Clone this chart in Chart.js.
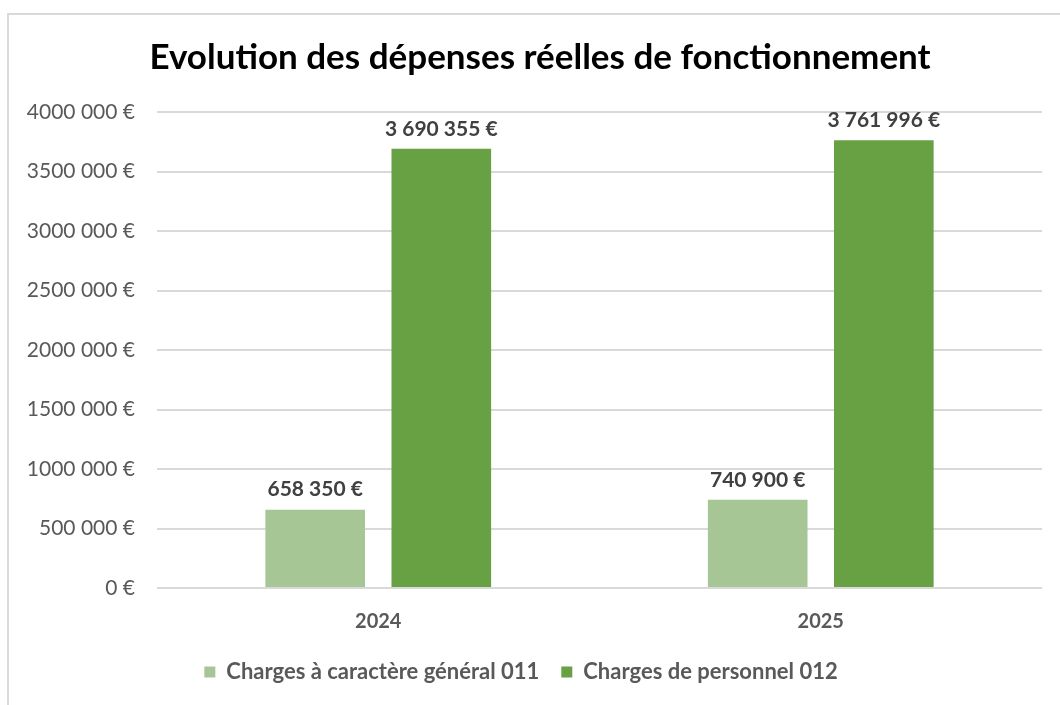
<!DOCTYPE html>
<html>
<head>
<meta charset="utf-8">
<script src="https://cdn.jsdelivr.net/npm/chart.js@4.4.1/dist/chart.umd.min.js"></script>
<style>
  html, body { margin: 0; padding: 0; background: #fff; }
  #frame {
    position: absolute; left: 7px; top: 13px; width: 1100px; height: 720px;
    border-left: 2px solid #d9d9d9; border-top: 2px solid #d9d9d9;
  }
  #wrap { position: absolute; left: 0; top: 0; width: 1060px; height: 705px; }
</style>
</head>
<body>
<div id="frame"></div>
<div id="wrap"><canvas id="chart" width="1060" height="705"></canvas></div>
<script>
const years = ['2024', '2025'];
const charges011 = [658350, 740900];
const charges012 = [3690355, 3761996];
const seriesNames = ['Charges à caractère général 011', 'Charges de personnel 012'];
const yTickLabels = ['0 €', '500 000 €', '1000 000 €', '1500 000 €', '2000 000 €',
  '2500 000 €', '3000 000 €', '3500 000 €', '4000 000 €'];
const chartTitle = 'Evolution des dépenses réelles de fonctionnement';

const FONT = 'Lato, "Open Sans", sans-serif';

function euro(v) {
  return String(v).replace(/\B(?=(\d{3})+(?!\d))/g, ' ') + ' €';
}

// titre centré sur le cadre (et pas seulement sur le canvas)
const frameTitle = {
  id: 'frameTitle',
  afterDraw(chart) {
    const ctx = chart.ctx;
    ctx.save();
    ctx.font = 'bold 35px ' + FONT;
    ctx.fillStyle = '#000';
    ctx.textAlign = 'center';
    ctx.textBaseline = 'middle';
    ctx.fillText(chartTitle, 540, 58);
    ctx.restore();
  }
};

// étiquettes de valeur au-dessus des barres
const valueLabels = {
  id: 'valueLabels',
  afterDatasetsDraw(chart) {
    const ctx = chart.ctx;
    ctx.save();
    ctx.font = 'bold 21px ' + FONT;
    ctx.fillStyle = '#404040';
    ctx.textAlign = 'center';
    ctx.textBaseline = 'middle';
    chart.data.datasets.forEach((ds, i) => {
      chart.getDatasetMeta(i).data.forEach((bar, j) => {
        ctx.fillText(euro(ds.data[j]), bar.x, bar.y - 20);
      });
    });
    ctx.restore();
  }
};

new Chart(document.getElementById('chart'), {
  type: 'bar',
  data: {
    labels: years,
    datasets: [
      { label: seriesNames[0], data: charges011, backgroundColor: '#a6c695' },
      { label: seriesNames[1], data: charges012, backgroundColor: '#68a044' }
    ]
  },
  options: {
    responsive: false,
    animation: false,
    categoryPercentage: 0.57,
    barPercentage: 0.79,
    layout: { padding: { left: 0, right: 18, top: 112, bottom: 12 } },
    plugins: {
      title: { display: false },
      legend: {
        position: 'bottom',
        labels: {
          color: '#595959',
          font: { family: FONT, size: 22, weight: 'bold' },
          boxWidth: 11,
          boxHeight: 11,
          padding: 22
        }
      },
      tooltip: { enabled: false }
    },
    scales: {
      x: {
        grid: { display: false },
        border: { display: false },
        ticks: {
          color: '#595959',
          padding: 14,
          font: { family: FONT, size: 20, weight: 'bold' }
        },
        afterFit(scale) { scale.height = 51; }
      },
      y: {
        min: 0,
        max: 4000000,
        ticks: {
          stepSize: 500000,
          color: '#595959',
          padding: 22,
          font: { family: FONT, size: 21 },
          callback: (v, i) => yTickLabels[i]
        },
        grid: { color: '#d9d9d9', lineWidth: 2, drawTicks: false },
        border: { display: false },
        afterFit(scale) { scale.width = 157; }
      }
    }
  },
  plugins: [valueLabels, frameTitle]
});
</script>
</body>
</html>
